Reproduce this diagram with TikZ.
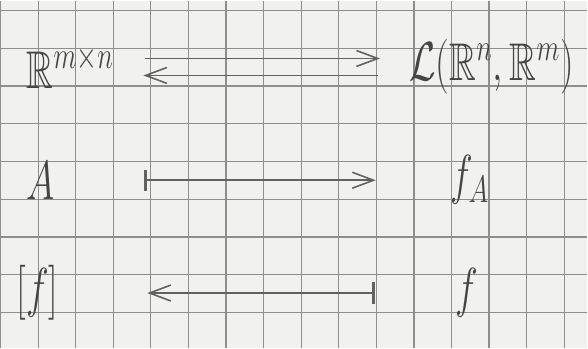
\documentclass[tikz,border=0pt]{standalone}
\usepackage{amssymb}
\usetikzlibrary{arrows.meta}

\definecolor{paper}{HTML}{F1F1EF}
\definecolor{gridgray}{HTML}{8E8E8E}
\definecolor{pencil}{HTML}{454545}

% narrow, hand-like letters
\newcommand{\hw}[1]{\scalebox{0.7}[1]{$#1$}}

\tikzset{
  hand/.style={font=\fontsize{20}{24}\selectfont, text=pencil, inner sep=0pt},
  gridline/.style={gridgray, line width=0.45pt},
  maparrow/.style={pencil!85, line width=0.6pt, -{Straight Barb[length=8pt,width=6pt]}},
  mapsto/.style={pencil!85, line width=0.6pt, {Bar[width=8pt,line width=1.1pt]}-{Straight Barb[length=8pt,width=6pt]}}
}

\begin{document}
\begin{tikzpicture}[x=0.3763pt, y=-0.3763pt]
\fill[paper] (0,0) rectangle (588,348);
\foreach \i in {0,...,15} \draw[gridline] (37.65*\i,0) -- (37.65*\i,348);
\foreach \j in {0,...,8} \draw[gridline] (0,10+37.8*\j) -- (588,10+37.8*\j);
\useasboundingbox (0,0) rectangle (588,348);

\node[hand] (Rmn) at (70,66.5) {\hw{\mathbb{R}^{m\times n}}};
\node[hand] (L) at (492,66.5) {\hw{\mathcal{L}(\mathbb{R}^{n},\mathbb{R}^{m})}};
\node[hand] (A) at (40,180) {\hw{A}};
\node[hand] (fA) at (470,180) {\hw{f_A}};
\node[hand] (bf) at (37,293) {\hw{[f]}};
\node[hand] (f) at (467,293) {\hw{f}};

\draw[maparrow, shorten <=28.2pt, shorten >=42.1pt] ([yshift=3.2pt]Rmn.center) -- ([yshift=3.2pt]L.center);
\draw[maparrow, shorten <=42.9pt, shorten >=27.5pt] ([yshift=-3.2pt]L.center) -- ([yshift=-3.2pt]Rmn.center);
\draw[mapsto, shorten <=39.1pt, shorten >=35.4pt] (A.center) -- (fA.center);
\draw[mapsto, shorten <=34.6pt, shorten >=41.4pt] (f.center) -- (bf.center);
\end{tikzpicture}
\end{document}
